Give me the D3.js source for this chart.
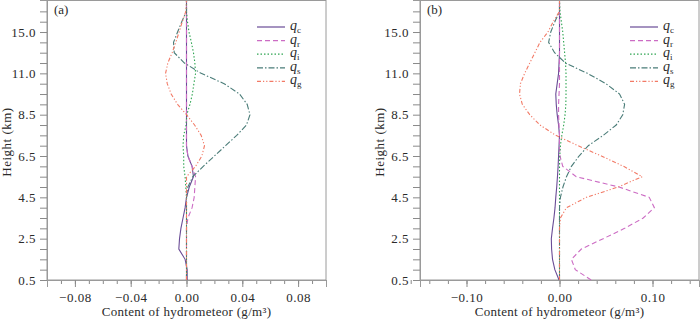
<!DOCTYPE html>
<html>
<head>
<meta charset="utf-8">
<script src="https://cdn.jsdelivr.net/npm/d3@7"></script>
<style>
  body { margin: 0; background: #fff; }
  text { font-family: "Liberation Serif", "DejaVu Serif", serif; fill: #2a2a2a; }
</style>
</head>
<body>
<div id="container"></div>
<script>
let w = 700;
let h = 320;

// model levels (index from bottom), labelled levels on the y axis
let levels = d3.range(0, 28);
let heightTicks = [0, 4, 8, 12, 16, 20, 24];
let heightLabels = ["0.5", "2.5", "4.5", "6.5", "8.5", "11.0", "15.0"];

let seriesNames = ["c", "r", "i", "s", "g"];

// panel (a) values, g/m3, bottom -> top
let qcA = [0.0005, 0.0005, -0.001, -0.0055, -0.005, -0.004, -0.0025, -0.001, 0, 0.002, 0.005, 0.004, 0.001, 0, 0, 0, 0, 0, 0, 0, 0, 0, 0, 0, 0, 0, 0, 0];
let qrA = [0, 0, 0, 0, 0, 0, 0.001, 0.004, 0.0055, 0.006, 0.0065, 0.004, 0.001, 0, 0, 0, 0, 0, 0, 0, 0, 0, 0, 0, 0, 0, 0, 0];
let qiA = [0, 0, 0, 0, 0, 0, 0, 0, 0, -0.0005, -0.001, -0.002, -0.002, -0.0025, -0.002, -0.0003, 0.0002, 0.0025, 0.0042, 0.0053, 0.0065, 0.006, 0.005, 0.0035, 0.0018, 0.0007, 0, 0];
let qsA = [0, 0, 0, 0, 0, 0, 0, 0, 0, 0.001, 0.0045, 0.012, 0.020, 0.028, 0.036, 0.043, 0.0455, 0.0435, 0.038, 0.027, 0.0105, -0.0015, -0.0088, -0.0093, -0.0064, -0.0034, 0, 0];
let qgA = [0, 0, 0, 0, 0, 0, 0, 0, 0, 0, 0, 0.0065, 0.011, 0.0129, 0.0105, 0.0058, 0, -0.0064, -0.011, -0.0138, -0.015, -0.0134, -0.0103, -0.0077, -0.0053, -0.003, -0.0005, 0];

// panel (b) values, g/m3, bottom -> top
let qcB = [-0.0005, -0.005, -0.0075, -0.0085, -0.0088, -0.0075, -0.006, -0.0048, -0.004, -0.003, -0.0022, -0.0015, -0.001, -0.0005, 0, -0.001, -0.0025, -0.0035, -0.004, -0.0025, -0.001, -0.0005, 0, 0, 0, 0, 0, 0];
let qrB = [0.034, 0.017, 0.0128, 0.0235, 0.047, 0.070, 0.090, 0.102, 0.0965, 0.064, 0.018, 0.0035, 0.0005, 0, 0, -0.0005, -0.001, -0.001, -0.0005, 0, 0, 0, 0, 0, 0, 0, 0, 0];
let qiB = [0, 0, 0, 0, 0, 0, 0, 0, 0, 0, 0, 0, 0.0003, 0.001, 0.0025, 0.0045, 0.006, 0.0068, 0.007, 0.007, 0.007, 0.0065, 0.0055, 0.0045, 0.0035, 0.002, 0.0005, 0];
let qsB = [0, 0, 0, 0, 0, 0, 0, 0, 0.001, 0.0037, 0.0075, 0.0128, 0.021, 0.031, 0.047, 0.061, 0.068, 0.070, 0.0646, 0.050, 0.030, 0.0064, -0.0053, -0.0117, -0.0094, -0.005, 0, 0];
let qgB = [0, 0, 0, 0, 0, 0, 0.001, 0.0075, 0.029, 0.063, 0.089, 0.069, 0.045, 0.020, -0.004, -0.021, -0.032, -0.040, -0.043, -0.042, -0.0375, -0.032, -0.0265, -0.021, -0.0125, -0.0067, 0, 0];

let colors = ["#6a4c96", "#cc6cc4", "#2fa552", "#4a7c78", "#f27a66"];
let dashes = ["none", "5,3", "1.5,2", "6,2,1.5,2", "4,2,1.2,2,1.2,2"];

let panels = [
  {tag: "(a)", left: 47, right: 326, domain: [-0.1, 0.1], labelTicks: [-0.08, -0.04, 0, 0.04, 0.08],
   minorStep: 0.01, data: [qcA, qrA, qiA, qsA, qgA]},
  {tag: "(b)", left: 420, right: 699, domain: [-0.15, 0.15], labelTicks: [-0.1, 0, 0.1],
   minorStep: 0.02, data: [qcB, qrB, qiB, qsB, qgB]}
];

let plotTop = 0, plotBottom = 280;

let svg = d3.select("#container").append("svg")
    .attr("width", w)
    .attr("height", h);

let y = d3.scaleLinear().domain([0, 27.1]).range([plotBottom, plotTop]);

panels.forEach(p => {
  let g = svg.append("g");
  let x = d3.scaleLinear().domain(p.domain).range([p.left, p.right]);

  // frame
  g.append("rect")
      .attr("x", p.left).attr("y", plotTop + 0.5)
      .attr("width", p.right - p.left).attr("height", plotBottom - plotTop - 0.5)
      .attr("fill", "none").attr("stroke", "#9a9a9a").attr("stroke-width", 1);

  // minor x ticks
  let n = Math.round(p.domain[1] / p.minorStep);
  let minor = d3.range(-n, n + 1).map(i => +(i * p.minorStep).toFixed(3));
  let xMinor = g.append("g").attr("transform", `translate(0,${plotBottom})`)
      .call(d3.axisBottom(x).tickValues(minor).tickSize(4).tickFormat(""));
  let xMajor = g.append("g").attr("transform", `translate(0,${plotBottom})`)
      .call(d3.axisBottom(x).tickValues(p.labelTicks).tickSize(7).tickPadding(6).tickFormat(d3.format(".2f")));
  [xMinor, xMajor].forEach(a => {
    a.select(".domain").attr("stroke", "#9a9a9a");
    a.selectAll(".tick line").attr("stroke", "#8a8a8a");
  });
  xMajor.selectAll(".tick text")
      .style("font-family", "Liberation Serif, serif")
      .style("font-size", "13px")
      .style("letter-spacing", "0.5px")
      .attr("fill", "#2a2a2a");

  // y axis on level index
  let yAxis = g.append("g").attr("transform", `translate(${p.left},0)`)
      .call(d3.axisLeft(y).tickValues(d3.range(0, 27)).tickSize(7).tickPadding(4)
        .tickFormat(d => {
          let k = heightTicks.indexOf(d);
          return k >= 0 ? heightLabels[k] : "";
        }));
  yAxis.select(".domain").attr("stroke", "#9a9a9a");
  yAxis.selectAll(".tick line").attr("stroke", "#8a8a8a");
  yAxis.selectAll(".tick text")
      .style("font-family", "Liberation Serif, serif")
      .style("font-size", "13px")
      .style("letter-spacing", "0.5px")
      .attr("fill", "#2a2a2a");

  // titles
  g.append("text")
      .attr("x", x(0)).attr("y", 316)
      .attr("text-anchor", "middle")
      .style("font-size", "13px")
      .style("letter-spacing", "0.3px")
      .text("Content of hydrometeor (g/m³)");
  g.append("text")
      .attr("transform", `translate(${p.left - 36},${(plotTop + plotBottom) / 2 + 2}) rotate(-90)`)
      .attr("text-anchor", "middle")
      .style("font-size", "13px")
      .style("letter-spacing", "0.5px")
      .text("Height (km)");
  g.append("text")
      .attr("x", p.left + 7).attr("y", 14)
      .style("font-size", "13px")
      .text(p.tag);

  // curves
  let line = d3.line()
      .x(d => x(d[1]))
      .y(d => y(d[0]));
  p.data.forEach((vals, i) => {
    g.append("path")
        .datum(levels.map((l, j) => [l, vals[j]]))
        .attr("d", line)
        .attr("fill", "none")
        .attr("stroke", colors[i])
        .attr("stroke-width", 1.1)
        .attr("stroke-dasharray", dashes[i]);
  });

  // legend
  let lg = g.append("g");
  seriesNames.forEach((s, i) => {
    let ly = 27 + i * 13.6;
    lg.append("line")
        .attr("x1", p.right - 69).attr("x2", p.right - 41)
        .attr("y1", ly).attr("y2", ly)
        .attr("stroke", colors[i])
        .attr("stroke-width", 1.2)
        .attr("stroke-dasharray", dashes[i]);
    let t = lg.append("text")
        .attr("x", p.right - 36).attr("y", ly + 3)
        .style("font-size", "14px");
    t.append("tspan").style("font-style", "italic").text("q");
    t.append("tspan").attr("dy", 3).style("font-size", "9px").text(s);
  });
});
</script>
</body>
</html>
